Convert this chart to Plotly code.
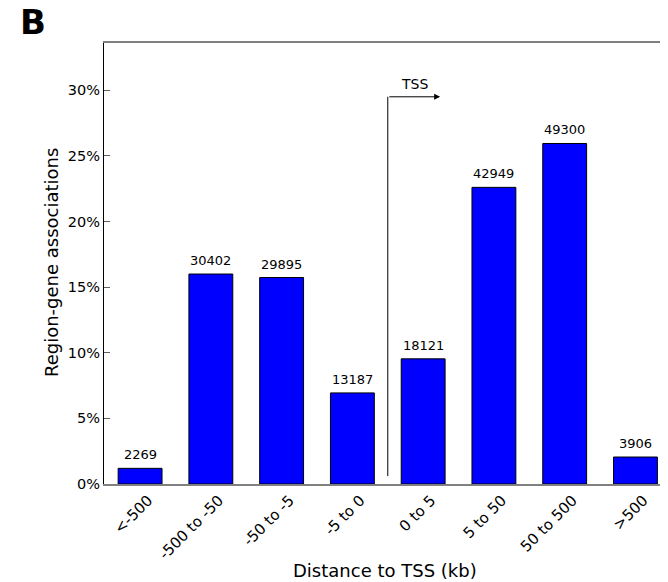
import plotly.graph_objects as go

categories = ["<-500", "-500 to -50", "-50 to -5", "-5 to 0", "0 to 5", "5 to 50", "50 to 500", ">500"]
counts = [2269, 30402, 29895, 13187, 18121, 42949, 49300, 3906]
ytick_vals = [0, 5, 10, 15, 20, 25, 30]
ytick_text = ["0%", "5%", "10%", "15%", "20%", "25%", "30%"]

total = sum(counts)
pct = [c / total * 100 for c in counts]
xs = list(range(len(categories)))

FONT = "DejaVu Sans"

# page has an 8px body margin; figure is placed at (8, 8)
W, H = 660, 574
L, T, B = 96, 35, 98
plot_bottom = H - B
plot_h = plot_bottom - T
plot_w = W - L


def px_x(page_x):
    return (page_x - 8 - L) / plot_w


def px_y(page_y):
    return (plot_bottom - (page_y - 8)) / plot_h


fig = go.Figure()
fig.add_trace(go.Bar(
    x=xs, y=pct, width=0.62,
    marker=dict(color="#0000ff", line=dict(color="black", width=1)),
    showlegend=False, hoverinfo="skip",
))
fig.add_trace(go.Scatter(x=[0], y=[0], yaxis="y2", mode="markers",
                         marker=dict(opacity=0), showlegend=False, hoverinfo="skip"))

annotations = []
for x, p, c in zip(xs, pct, counts):
    annotations.append(dict(x=x, y=p, xref="x", yref="y", text=str(c), showarrow=False,
                            yanchor="bottom", yshift=4, font=dict(family=FONT, size=13, color="black")))

# TSS arrow
fig.add_shape(type="line", x0=3.5, x1=3.5, y0=0.6, y1=29.5, xref="x", yref="y",
              line=dict(color="black", width=1))
annotations.append(dict(x=4.24, y=29.5, ax=3.5, ay=29.5, xref="x", yref="y", axref="x", ayref="y",
                        text="", showarrow=True, arrowhead=2, arrowsize=1.2, arrowwidth=1,
                        arrowcolor="black"))
annotations.append(dict(x=3.88, y=29.5, xref="x", yref="y", text="TSS", showarrow=False,
                        yanchor="bottom", yshift=3, font=dict(family=FONT, size=14, color="black")))
annotations.append(dict(x=px_x(18), y=px_y(22), xref="paper", yref="paper", text="<b>B</b>",
                        showarrow=False, xanchor="left", yanchor="middle",
                        font=dict(family=FONT, size=34, color="black")))
annotations.append(dict(x=px_x(385), y=px_y(570), xref="paper", yref="paper",
                        text="Distance to TSS (kb)", showarrow=False,
                        xanchor="center", yanchor="middle",
                        font=dict(family=FONT, size=18, color="black")))
annotations.append(dict(x=px_x(51), y=px_y(263), xref="paper", yref="paper",
                        text="Region-gene associations", showarrow=False, textangle=-90,
                        xanchor="center", yanchor="middle",
                        font=dict(family=FONT, size=18, color="black")))

fig.update_layout(
    width=W, height=H,
    margin=dict(l=L, r=0, t=T, b=B, autoexpand=False),
    plot_bgcolor="white", paper_bgcolor="white",
    font=dict(family=FONT, size=14, color="black"),
    xaxis=dict(
        range=[-0.51, 7.46], tickmode="array", tickvals=xs, ticktext=categories,
        tickangle=-45, ticks="", showline=True, linecolor="#808080", linewidth=1.5,
        mirror=True, showgrid=False, zeroline=False, automargin=False,
        ticklabelshift=8, ticklabelstandoff=0,
        tickfont=dict(family=FONT, size=15, color="black"),
    ),
    yaxis=dict(
        range=[0, 33.6], tickmode="array", tickvals=ytick_vals, ticktext=ytick_text,
        ticks="inside", ticklen=6, tickcolor="#606060", showline=True, linecolor="black",
        linewidth=1, showgrid=False, zeroline=False, automargin=False,
        tickfont=dict(family=FONT, size=14.5, color="black"),
    ),
    yaxis2=dict(
        overlaying="y", side="right", range=[0, 33.6], tickmode="array", tickvals=ytick_vals,
        showticklabels=False, ticks="inside", ticklen=4, tickcolor="#606060",
        showline=False, showgrid=False, zeroline=False, automargin=False,
    ),
    annotations=annotations,
)

fig.write_html("out.html")
